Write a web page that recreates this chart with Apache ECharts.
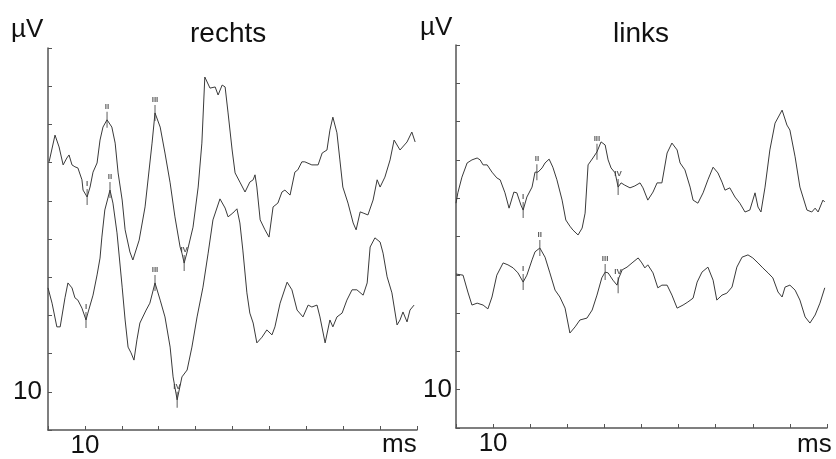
<!DOCTYPE html>
<html>
<head>
<meta charset="utf-8">
<script src="https://cdn.jsdelivr.net/npm/echarts@6/dist/echarts.min.js"></script>
<style>
html,body{margin:0;padding:0;background:#fff;}
#chart{width:836px;height:459px;}
</style>
</head>
<body>
<div id="chart"></div>
<script>
// ---- data (x in ms, y in µV) ----
const panelTitles = ['rechts', 'links'];
const xTickLabels = ['', '10', '', '', '', '', '', '', '', '', ''];   // ticks 9..19
const yTickLabels = ['', '10', '', '', '', '', '', '', '', '', ''];   // ticks 9..19
const xUnit = 'ms';
const yUnit = 'µV';

const rechtsUpperX = [9.03,9.19,9.30,9.41,9.51,9.57,9.65,9.73,9.81,9.92,9.95,10.06,10.14,10.22,10.33,10.41,10.49,10.60,10.73,10.82,10.90,11.01,11.09,11.22,11.30,11.47,11.63,11.82,11.90,12.04,12.17,12.31,12.44,12.58,12.63,12.69,12.77,12.82,12.93,13.07,13.17,13.25,13.39,13.53,13.61,13.72,13.80,13.88,13.99,14.07,14.20,14.34,14.47,14.56,14.61,14.66,14.75,14.88,14.99,15.10,15.23,15.34,15.42,15.56,15.69,15.77,15.88,15.96,16.15,16.32,16.43,16.56,16.64,16.72,16.83,16.91,16.99,17.13,17.27,17.35,17.46,17.54,17.67,17.81,17.92,18.00,18.13,18.27,18.38,18.54,18.73,18.86,18.95];
const rechtsUpperY = [16.02,16.72,16.41,15.94,16.12,16.20,15.94,15.89,15.86,15.55,15.28,15.10,15.36,15.75,15.99,16.59,16.93,17.12,16.93,16.51,15.73,15.02,14.24,13.66,13.45,13.97,14.84,16.51,17.30,16.93,16.25,15.47,14.58,13.79,13.63,13.37,13.66,13.61,14.31,15.36,16.51,18.24,17.95,17.98,17.77,18.03,17.98,17.30,16.33,15.73,15.49,15.23,15.49,15.55,15.68,15.36,14.50,14.24,14.05,14.84,14.94,15.23,15.28,15.15,15.75,15.81,16.02,16.02,15.94,15.94,16.25,16.33,16.85,17.19,16.78,16.07,15.36,14.94,14.42,14.24,14.71,14.68,14.63,15.02,15.55,15.36,15.62,16.07,16.59,16.33,16.54,16.80,16.54];

const rechtsLowerX = [9.00,9.11,9.24,9.33,9.46,9.54,9.65,9.73,9.81,9.92,10.03,10.08,10.22,10.33,10.41,10.46,10.54,10.68,10.76,10.87,11.01,11.09,11.17,11.25,11.33,11.41,11.49,11.66,11.76,11.90,12.04,12.17,12.31,12.39,12.50,12.63,12.77,12.90,13.04,13.20,13.34,13.47,13.66,13.80,13.88,14.01,14.12,14.20,14.28,14.39,14.47,14.56,14.66,14.80,14.93,15.07,15.15,15.29,15.48,15.61,15.75,15.91,16.05,16.15,16.29,16.37,16.51,16.64,16.72,16.83,16.97,17.10,17.24,17.37,17.54,17.65,17.73,17.86,18.00,18.08,18.19,18.32,18.46,18.54,18.62,18.73,18.81,18.92];
const rechtsLowerY = [12.72,12.32,11.70,11.70,12.46,12.85,12.72,12.46,12.40,12.19,11.88,12.06,12.53,13.06,13.50,14.05,14.76,15.28,14.94,14.16,12.74,11.88,11.17,11.02,10.83,11.36,11.80,12.14,12.32,12.85,12.40,11.96,11.17,10.39,9.79,10.39,10.57,11.17,11.96,12.74,13.63,14.50,15.05,14.81,14.58,14.68,14.79,14.42,13.71,12.59,12.06,11.80,11.28,11.43,11.62,11.49,11.70,12.32,12.87,12.67,12.14,11.96,12.27,12.22,12.27,11.96,11.28,11.88,11.70,11.96,12.06,12.40,12.67,12.67,12.53,12.85,13.79,14.03,13.92,13.63,13.01,12.59,11.75,11.88,12.09,11.83,12.14,12.27];

const linksUpperX = [9.00,9.05,9.16,9.30,9.43,9.57,9.65,9.73,9.84,9.97,10.10,10.19,10.32,10.43,10.56,10.64,10.75,10.81,10.91,11.05,11.13,11.21,11.32,11.40,11.51,11.61,11.72,11.86,11.96,12.07,12.15,12.29,12.40,12.48,12.56,12.69,12.80,12.91,13.02,13.10,13.18,13.29,13.37,13.45,13.55,13.69,13.82,13.96,14.04,14.17,14.31,14.42,14.55,14.69,14.82,14.96,15.04,15.17,15.31,15.39,15.52,15.66,15.79,15.93,16.06,16.17,16.25,16.38,16.52,16.65,16.79,16.92,17.06,17.14,17.22,17.33,17.46,17.60,17.79,17.92,18.00,18.14,18.27,18.46,18.59,18.68,18.76,18.89,18.94];
const linksUpperY = [14.87,15.14,15.55,15.92,16.00,16.05,16.00,15.87,15.87,15.68,15.53,15.48,15.14,14.74,15.16,15.14,14.82,14.69,15.03,15.29,15.68,15.68,15.79,15.92,16.02,15.81,15.48,14.95,14.43,14.27,14.17,14.04,14.22,14.61,15.87,16.05,16.21,16.47,16.39,16.00,15.79,15.66,15.29,15.40,15.34,15.27,15.32,15.40,15.27,14.95,15.16,15.40,15.40,16.18,16.44,16.26,15.92,15.74,15.29,14.95,14.87,15.14,15.48,15.81,15.66,15.42,15.21,15.27,15.03,14.87,14.64,14.69,15.14,14.77,14.64,15.29,16.26,16.96,17.30,16.91,16.78,16.08,15.29,14.69,14.64,14.74,14.64,14.95,14.90];

const linksLowerX = [9.00,9.19,9.32,9.43,9.57,9.73,9.86,9.97,10.10,10.27,10.40,10.54,10.67,10.81,10.91,11.05,11.13,11.26,11.40,11.53,11.67,11.80,11.94,12.07,12.21,12.34,12.53,12.67,12.80,12.93,13.02,13.10,13.23,13.34,13.39,13.48,13.61,13.77,13.91,14.01,14.09,14.17,14.31,14.44,14.55,14.69,14.82,14.96,15.12,15.25,15.39,15.50,15.63,15.79,15.93,16.03,16.17,16.30,16.44,16.57,16.71,16.87,17.00,17.14,17.27,17.41,17.54,17.68,17.79,17.87,18.00,18.14,18.27,18.41,18.54,18.68,18.81,18.94];
const linksLowerY = [13.02,12.99,12.55,12.21,12.26,12.21,12.11,12.42,12.99,13.31,13.26,13.18,13.05,12.81,12.99,13.39,13.60,13.70,13.46,13.05,12.60,12.42,12.13,11.48,11.64,11.82,11.87,12.08,12.47,12.92,13.07,13.05,12.86,12.73,12.92,13.13,13.20,13.33,13.44,13.31,13.18,13.26,13.05,12.66,12.73,12.73,12.47,12.13,12.21,12.29,12.39,12.81,13.07,13.20,12.86,12.34,12.47,12.52,12.68,13.20,13.46,13.52,13.44,13.31,13.18,13.05,12.92,12.55,12.42,12.68,12.73,12.60,12.34,11.90,11.74,11.95,12.26,12.66];

// wave markers: [x, y, name]
const rechtsWaves = [[10.06,15.10,'I'],[10.60,17.12,'II'],[11.90,17.30,'III'],[12.69,13.37,'IV'],
                     [10.03,11.88,'I'],[10.68,15.28,'II'],[11.90,12.85,'III'],[12.50,9.79,'IV']];
const linksWaves  = [[10.81,14.69,'I'],[11.18,15.68,'II'],[12.80,16.21,'III'],[13.37,15.29,'IV'],
                     [10.81,12.81,'I'],[11.26,13.70,'II'],[13.02,13.07,'III'],[13.37,12.73,'IV']];

// ---- chart ----
const FONT = 'Liberation Sans, Arial, sans-serif';
const LINE = '#3a3a3a';
const AXIS = '#555';
const zip = (xs, ys) => xs.map((x, i) => [x, ys[i]]);

function xAxis(gi) {
  return {
    type: 'value', gridIndex: gi, min: 9, max: 19, interval: 1,
    axisLine: { lineStyle: { color: AXIS, width: 1.5 } },
    axisTick: { inside: true, length: 4, lineStyle: { color: AXIS, width: 1 } },
    splitLine: { show: false },
    axisLabel: { margin: 3, fontSize: 26, fontFamily: FONT, color: '#111',
      formatter: v => xTickLabels[Math.round(v - 9)] || '' }
  };
}
function yAxis(gi, margin) {
  return {
    type: 'value', gridIndex: gi, min: 9, max: 19, interval: 1,
    axisLine: { show: true, lineStyle: { color: AXIS, width: 1.5 } },
    axisTick: { show: true, inside: true, length: 4, lineStyle: { color: AXIS, width: 1 } },
    splitLine: { show: false },
    axisLabel: { margin: margin, fontSize: 26, fontFamily: FONT, color: '#111',
      formatter: v => yTickLabels[Math.round(v - 9)] || '' }
  };
}
function trace(gi, data) {
  return { type: 'line', xAxisIndex: gi, yAxisIndex: gi, data: data, symbol: 'none',
    smooth: false, lineStyle: { color: LINE, width: 1 }, silent: true, animation: false };
}
function waves(gi, list) {
  return { type: 'scatter', xAxisIndex: gi, yAxisIndex: gi, symbol: 'rect', symbolSize: [1, 16],
    itemStyle: { color: '#333' }, silent: true, animation: false,
    data: list.map(w => ({ value: [w[0], w[1]], name: w[2] })),
    label: { show: true, position: 'top', distance: 1, formatter: p => p.name,
      fontSize: 8, fontFamily: FONT, fontWeight: 'bold', color: '#333' } };
}

const chart = echarts.init(document.getElementById('chart'));
chart.setOption({
  backgroundColor: '#ffffff',
  animation: false,
  grid: [
    { left: 48, width: 369, top: 48, height: 382 },
    { left: 456, width: 371, top: 45, height: 383 }
  ],
  xAxis: [xAxis(0), xAxis(1)],
  yAxis: [yAxis(0, 6), yAxis(1, 4)],
  series: [
    trace(0, zip(rechtsUpperX, rechtsUpperY)),
    trace(0, zip(rechtsLowerX, rechtsLowerY)),
    waves(0, rechtsWaves),
    trace(1, zip(linksUpperX, linksUpperY)),
    trace(1, zip(linksLowerX, linksLowerY)),
    waves(1, linksWaves)
  ],
  graphic: [
    { type: 'text', left: 190, top: 20, style: { text: panelTitles[0], font: '28px ' + FONT, fill: '#111' } },
    { type: 'text', left: 613, top: 20, style: { text: panelTitles[1], font: '28px ' + FONT, fill: '#111' } },
    { type: 'text', left: 11, top: 17, style: { text: yUnit, font: '26px ' + FONT, fill: '#111' } },
    { type: 'text', left: 420, top: 15, style: { text: yUnit, font: '26px ' + FONT, fill: '#111' } },
    { type: 'text', left: 382, top: 432, style: { text: xUnit, font: '26px ' + FONT, fill: '#111' } },
    { type: 'text', left: 797, top: 432, style: { text: xUnit, font: '26px ' + FONT, fill: '#111' } }
  ]
});
</script>
</body>
</html>
